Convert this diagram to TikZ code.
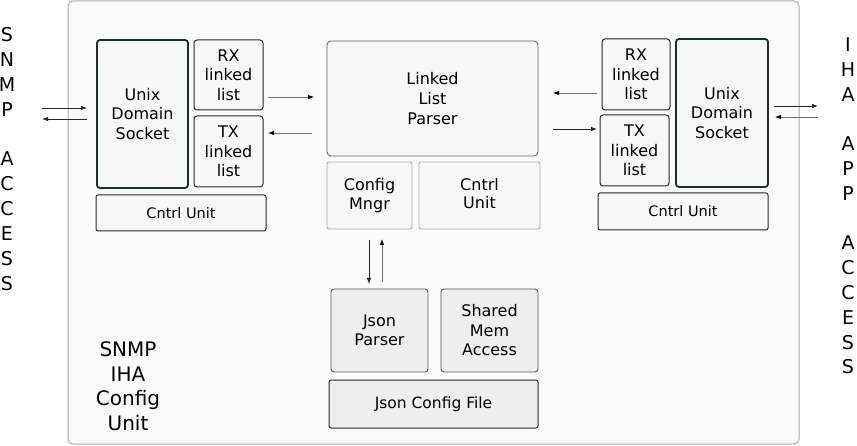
\documentclass[tikz,border=0pt]{standalone}
\usepackage{fontspec}
\setmainfont{DejaVu Sans}
\usetikzlibrary{arrows.meta}
\definecolor{dk}{HTML}{1E2D2D}
\definecolor{lf}{HTML}{F7F7F7}
\definecolor{jf}{HTML}{EEEEEE}
\definecolor{fr}{HTML}{AAAAAA}
\definecolor{ff}{HTML}{FAFAFA}
\tikzset{
  outerbox/.style={draw=fr, fill=ff, line width=1pt, rounded corners=5pt},
  sock/.style={draw=dk, fill=lf, line width=1.8pt, rounded corners=3pt, align=center, font=\fontsize{16}{19.5}\selectfont},
  lbox/.style={draw=dk, fill=lf, line width=1pt, rounded corners=3pt, align=center, font=\fontsize{16}{19.5}\selectfont},
  cubox/.style={draw=dk, fill=lf, line width=1pt, rounded corners=2pt, align=center, font=\fontsize{14.5}{19}\selectfont},
  pbox/.style={draw=black!60, fill=lf, line width=0.9pt, rounded corners=4pt, align=center, font=\fontsize{16}{20}\selectfont},
  gbox/.style={draw=fr, fill=lf, line width=0.9pt, rounded corners=2pt, align=center, font=\fontsize{16}{19}\selectfont},
  jbox/.style={draw=black!65, fill=jf, line width=0.9pt, rounded corners=3pt, align=center, font=\fontsize{16}{19.5}\selectfont},
  jfile/.style={draw=dk, fill=jf, line width=1pt, rounded corners=2pt, align=center, font=\fontsize{15.5}{19}\selectfont},
  side/.style={align=center, inner sep=0pt, font=\fontsize{19}{24.9}\selectfont},
  arr/.style={line width=0.8pt, draw=black!85, -{Latex[length=6pt,width=4.5pt]}},
  garr/.style={line width=0.8pt, draw=black!55, -{Latex[length=6pt,width=4.5pt,fill=black,color=black]}}
}
\begin{document}
\begin{tikzpicture}[x=1pt,y=-1pt]
\useasboundingbox (0,0) rectangle (857,446);
\node[outerbox, minimum width=731pt, minimum height=443pt] (frame) at (433.5,222.5) {};

% left block
\node[sock, minimum width=91pt, minimum height=148pt] (sockL) at (142.5,114) {Unix\\Domain\\Socket};
\node[lbox, minimum width=69pt, minimum height=70pt] (rxL) at (228.5,75) {RX\\linked\\list};
\node[lbox, minimum width=69pt, minimum height=71pt] (txL) at (228.5,151.5) {TX\\linked\\list};
\node[cubox, minimum width=170pt, minimum height=36pt] (cuL) at (181,213) {Cntrl Unit};

% center block
\node[pbox, minimum width=211pt, minimum height=115pt] (parser) at (432.5,98.5) {Linked\\List\\Parser};
\node[gbox, minimum width=85pt, minimum height=67pt] (cfg) at (369.5,195.5) {Config\\Mngr};
\node[gbox, minimum width=121pt, minimum height=67pt] (cuC) at (479.5,195.5) {\raisebox{4pt}{\begin{tabular}{@{}c@{}}Cntrl\\[-1pt]Unit\end{tabular}}};

% right block
\node[lbox, minimum width=68pt, minimum height=71pt] (rxR) at (636,74.5) {RX\\linked\\list};
\node[lbox, minimum width=69pt, minimum height=71pt] (txR) at (634.5,150.5) {TX\\linked\\list};
\node[sock, minimum width=92pt, minimum height=148pt] (sockR) at (722,113) {Unix\\Domain\\Socket};
\node[cubox, minimum width=170pt, minimum height=37pt] (cuR) at (683,211.5) {Cntrl Unit};

% json block
\node[jbox, minimum width=97pt, minimum height=83pt] (jp) at (379.5,330.5) {Json\\Parser};
\node[jbox, minimum width=97pt, minimum height=83pt] (sm) at (489.5,330.5) {Shared\\Mem\\Access};
\node[jfile, minimum width=209pt, minimum height=48pt] (jcf) at (433.5,404) {Json Config File};

% side labels
\node[side] (snmpacc) at (7,159) {S\\N\\M\\P\\[24.9pt]A\\C\\C\\E\\S\\S};
\node[side, font=\fontsize{19}{24.8}\selectfont] (ihaacc) at (848,206) {I\\H\\A\\[24.8pt]A\\P\\P\\[24.8pt]A\\C\\C\\E\\S\\S};
\node[side, font=\fontsize{20}{24.5}\selectfont] (unitlbl) at (128,386) {SNMP\\IHA\\Config\\Unit};

% connector end points
\coordinate (l1a) at (42,108); \coordinate (l1b) at (87,108);
\coordinate (l2a) at (87,119); \coordinate (l2b) at (42,119);
\coordinate (c1a) at (268,97); \coordinate (c1b) at (314,97);
\coordinate (c2a) at (312,133); \coordinate (c2b) at (268,133);
\coordinate (d1a) at (597,93); \coordinate (d1b) at (553,93);
\coordinate (d2a) at (553,129); \coordinate (d2b) at (597,129);
\coordinate (r1a) at (774,106); \coordinate (r1b) at (818,106);
\coordinate (r2a) at (818,117); \coordinate (r2b) at (775,117);
\coordinate (v1a) at (369,240); \coordinate (v1b) at (369,284);
\coordinate (v2a) at (382,282); \coordinate (v2b) at (382,239);

\draw[arr] (l1a) -- (l1b);
\draw[arr] (l2a) -- (l2b);
\draw[garr] (c1a) -- (c1b);
\draw[garr] (c2a) -- (c2b);
\draw[garr] (d1a) -- (d1b);
\draw[arr] (d2a) -- (d2b);
\draw[arr] (r1a) -- (r1b);
\draw[garr] (r2a) -- (r2b);
\draw[arr] (v1a) -- (v1b);
\draw[garr] (v2a) -- (v2b);
\end{tikzpicture}
\end{document}
